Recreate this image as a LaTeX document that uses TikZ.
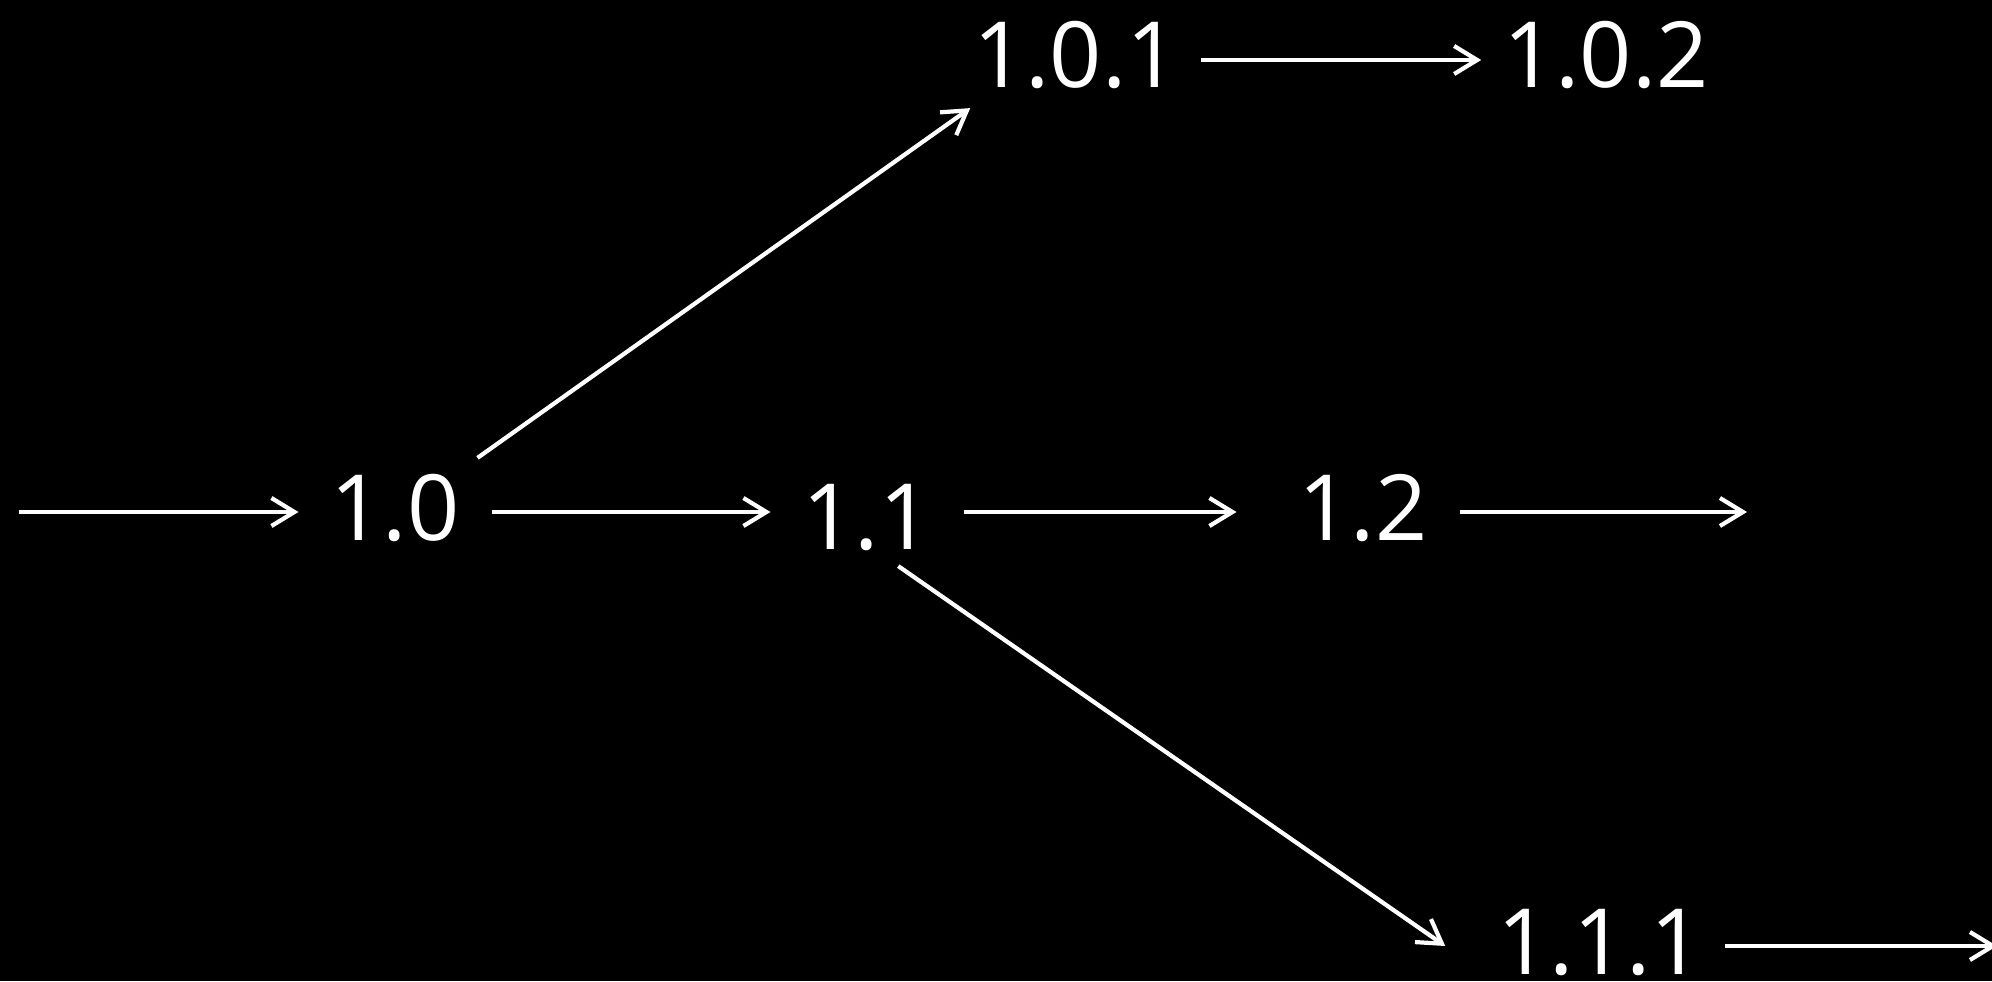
\documentclass[tikz,border=0pt]{standalone}
\usepackage{fontspec}
\setmainfont{Open Sans}
\usetikzlibrary{positioning,arrows.meta}

\begin{document}
\begin{tikzpicture}[
    >={Straight Barb[length=2.3mm,width=2.8mm]},
    line width=1.2pt,
    ver/.style={text=white, font=\fontsize{26}{30}\selectfont, text height=7mm, text depth=1.4mm,
                inner xsep=3mm, inner ysep=1mm},
    verside/.style={ver, inner xsep=2mm},
    flow/.style={->, draw=white},
  ]
    \useasboundingbox (0,0) rectangle (19.92,9.81);
    \fill[black] (0,0) rectangle (19.92,9.81);

    % main line
    \coordinate (in) at (0.19,4.69);
    \node[ver] (n10) at (3.95,4.69)  {1.0};
    \node[ver] (n11) at (8.67,4.69)  {\raisebox{-1mm}{1.1}};
    \node[ver] (n12) at (13.63,4.69) {1.2};
    \coordinate (out) at (17.47,4.69);

    % branches
    \node[verside] (n101) at (10.76,9.21) {1.0.1};
    \node[verside] (n102) at (16.06,9.21) {1.0.2};
    \node[verside] (n111) at (16.00,0.35) {1.1.1};
    \coordinate (end) at (19.97,0.35);

    \draw[flow] (in) -- (n10);
    \draw[flow] (n10) -- (n11);
    \draw[flow, shorten >=3mm] (n11) -- (n12);
    \draw[flow] (n12) -- (out);

    \draw[flow] ([xshift=-1.4mm]n10.north east) -- ([xshift=1.9mm,yshift=0.6mm]n101.south west);
    \draw[flow] (n101) -- (n102);

    \draw[flow] (n11.-60) -- ([xshift=-3mm]n111.west);
    \draw[flow] (n111) -- (end);
  \end{tikzpicture}
\end{document}
